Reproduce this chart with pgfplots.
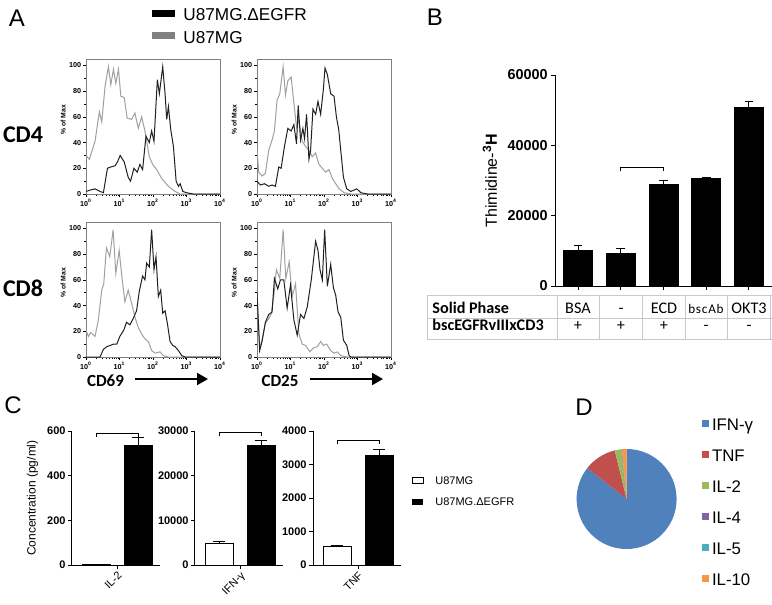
\documentclass[border=0pt]{standalone}
\usepackage{fontspec}
\setmainfont{Liberation Sans}
\newfontfamily\calibri{Carlito}
\newfontfamily\calibrisp[LetterSpace=6]{Carlito}
\usepackage{pgfplots}
\pgfplotsset{compat=1.18}
\usepackage{pgfplotstable}
\usetikzlibrary{arrows.meta}

\definecolor{flowgray}{HTML}{A0A0A0}
\definecolor{flowblack}{HTML}{202020}
\definecolor{pieblue}{HTML}{4F81BD}
\definecolor{piered}{HTML}{C0504D}
\definecolor{piegreen}{HTML}{9BBB59}
\definecolor{piepurple}{HTML}{8064A2}
\definecolor{pieaqua}{HTML}{4BACC6}
\definecolor{pieorange}{HTML}{F79646}
\definecolor{gridgray}{HTML}{C8C8C8}

% ---------- flow histograms (x = log10 of fluorescence) ----------
\pgfplotstableread{
x y
0 30
0.1 27
0.27 41
0.4 64
0.47 56
0.57 84
0.67 99
0.74 85
0.82 97
0.89 86
0.97 97
1.04 76
1.14 75
1.23 59
1.36 58
1.46 63
1.56 51
1.66 60
1.76 49
1.89 29
1.99 23
2.11 19
2.26 12
2.46 6
2.66 2
2.8 0
4 0
}\TLg
\pgfplotstableread{
x y
0 2
0.12 3
0.27 4
0.42 2
0.52 1
0.64 20
0.74 21
0.87 22
0.94 25
1.02 30
1.14 25
1.26 13
1.33 10
1.43 20
1.53 17
1.61 23
1.69 19
1.79 45
1.89 40
1.96 49
2.03 41
2.13 89
2.19 78
2.29 99
2.36 78
2.41 58
2.46 68
2.53 50
2.61 37
2.69 10
2.76 6
2.81 8
2.89 2
3.0 1
3.2 0
4 0
}\TLk
\pgfplotstableread{
x y
0 35
0.05 17
0.15 14
0.25 16
0.35 34
0.45 42
0.52 49
0.6 73
0.68 78
0.78 99
0.85 77
0.92 88
1.02 91
1.1 71
1.18 52
1.25 57
1.35 41
1.45 37
1.55 34
1.65 29
1.75 32
1.85 23
1.95 20
2.05 17
2.15 19
2.25 12
2.35 8
2.45 4
2.6 1
2.8 0
4 0
}\TRg
\pgfplotstableread{
x y
0 10
0.1 7
0.22 8
0.35 6
0.45 7
0.55 6
0.65 21
0.72 20
0.82 37
0.92 51
1.02 49
1.1 54
1.18 39
1.23 69
1.3 42
1.37 51
1.42 43
1.48 62
1.55 27
1.6 34
1.67 66
1.75 62
1.82 72
1.9 62
1.98 81
2.03 98
2.1 93
2.2 78
2.3 76
2.37 60
2.44 50
2.5 34
2.58 13
2.68 4
2.8 2
2.98 4
3.1 1
3.3 0
4 0
}\TRk
\pgfplotstableread{
x y
0 21
0.07 16
0.14 19
0.27 16
0.37 29
0.47 52
0.53 57
0.61 85
0.71 78
0.81 99
0.89 65
0.99 83
1.06 65
1.16 43
1.26 52
1.36 42
1.46 31
1.56 23
1.66 18
1.76 14
1.86 12
1.96 5
2.06 3
2.21 4
2.31 1
2.46 0
4 0
}\BLg
\pgfplotstableread{
x y
0 0
0.42 0
0.52 6
0.62 8
0.72 9
0.82 10
0.92 10
1.01 16
1.13 21
1.21 27
1.31 25
1.41 30
1.51 36
1.59 51
1.69 63
1.76 60
1.81 73
1.89 70
1.96 99
2.03 68
2.09 78
2.16 47
2.23 52
2.29 34
2.36 36
2.43 26
2.51 12
2.59 9
2.66 8
2.76 5
2.86 1
2.96 0
4 0
}\BLk
\pgfplotstableread{
x y
0 50
0.08 7
0.15 13
0.25 26
0.35 30
0.42 33
0.5 47
0.58 68
0.68 61
0.78 99
0.86 61
0.96 74
1.05 47
1.15 57
1.25 18
1.35 10
1.45 9
1.58 4
1.68 7
1.8 8
1.9 12
1.98 9
2.08 10
2.2 5
2.3 3
2.4 4
2.5 1
2.7 0
4 0
}\BRg
\pgfplotstableread{
x y
0 50
0.08 5
0.15 12
0.25 27
0.35 33
0.45 35
0.52 61
0.62 53
0.7 60
0.8 60
0.9 38
1.0 56
1.1 29
1.2 17
1.3 33
1.4 30
1.5 39
1.62 60
1.75 90
1.82 83
1.88 68
1.95 60
2.02 99
2.1 55
2.2 72
2.28 54
2.35 48
2.42 35
2.5 31
2.58 13
2.68 9
2.75 1
2.8 0
4 0
}\BRk

\pgfplotsset{
  flow/.style={
    scale only axis, width=67pt, height=67.5pt,
    xmin=0, xmax=4, ymin=0, ymax=105,
    xtick={0,1,2,3,4},
    xticklabels={10\textsuperscript{0},10\textsuperscript{1},10\textsuperscript{2},10\textsuperscript{3},10\textsuperscript{4}},
    minor xtick={0.301,0.477,0.602,0.699,0.778,0.845,0.903,0.954,1.301,1.477,1.602,1.699,1.778,1.845,1.903,1.954,2.301,2.477,2.602,2.699,2.778,2.845,2.903,2.954,3.301,3.477,3.602,3.699,3.778,3.845,3.903,3.954},
    ytick={0,20,40,60,80,100},
    minor ytick={10,30,50,70,90},
    xtick pos=bottom, ytick pos=left,
    tick align=outside,
    major tick length=1.6pt, minor tick length=0.9pt,
    axis line style={gray, line width=0.4pt},
    tick style={black, line width=0.3pt},
    minor tick style={black, line width=0.3pt},
    tick label style={font=\fontsize{3.6}{4}\selectfont\bfseries, inner sep=0.6pt},
    /pgf/number format/assume math mode=true,
    ylabel={\% of Max},
    ylabel style={font=\fontsize{3.4}{4}\selectfont\bfseries, at={(axis description cs:-0.17,0.55)}, anchor=center},
    every axis plot/.append style={line width=0.5pt, mark=none},
  },
  prism/.style={
    scale only axis,
    axis x line*=bottom, axis y line*=left,
    axis line style={-, line width=0.5pt, black},
    tick align=outside, major tick length=2pt,
    tick style={black, line width=0.5pt},
    scaled y ticks=false,
    /pgf/number format/1000 sep={},
    /pgf/number format/assume math mode=true,
  },
  cbars/.style={
    prism, anchor=south west, width=44pt, height=67pt,
    xmin=-1.07, xmax=1.02, ymin=0,
    xtick={0},
    yticklabel style={font=\fontsize{5.5}{6}\selectfont\bfseries, inner sep=1pt},
    xticklabel style={rotate=45, anchor=north east, font=\fontsize{5.5}{6}\selectfont, inner sep=0.5pt},
    ybar=7pt, bar width=14pt,
  },
  errs/.style={
    error bars/.cd, y dir=plus, y explicit,
    error bar style={black, line width=0.5pt},
    error mark options={black, line width=0.5pt, mark size=#1, rotate=90},
  },
}

\def\vIFN{85.6}
\def\vTNF{10.6}
\def\vILii{2.0}
\def\vILiv{0.1}
\def\vILv{0.2}
\def\vILx{1.5}

\begin{document}%
\begin{tikzpicture}
\pgfmathsetmacro\aA{90}
\pgfmathsetmacro\aB{\aA-3.6*\vIFN}
\pgfmathsetmacro\aC{\aB-3.6*\vTNF}
\pgfmathsetmacro\aD{\aC-3.6*\vILii}
\pgfmathsetmacro\aE{\aD-3.6*\vILiv}
\pgfmathsetmacro\aF{\aE-3.6*\vILv}
\pgfmathsetmacro\aG{\aF-3.6*\vILx}
\fill[white] (0,0) rectangle (386pt,-302.5pt);

% ---------------- Panel A ----------------
\node[font=\fontsize{12}{14}\selectfont] at (8.5pt,-9pt) {A};
\fill[black] (76pt,-5pt) rectangle (87.5pt,-8.3pt);
\node[anchor=base west, inner sep=0pt, font=\fontsize{8.6}{10}\selectfont] at (91.5pt,-10pt) {U87MG.ΔEGFR};
\fill[gray] (76pt,-16pt) rectangle (87.5pt,-19.5pt);
\node[anchor=base west, inner sep=0pt, font=\fontsize{8.6}{10}\selectfont] at (91.5pt,-21.7pt) {U87MG};

\node[font=\calibri\bfseries\fontsize{12}{14}\selectfont] at (11.5pt,-67.5pt) {CD4};
\node[font=\calibri\bfseries\fontsize{12}{14}\selectfont] at (11.5pt,-144pt) {CD8};

\begin{axis}[flow, at={(43pt,-97pt)}, anchor=south west]
\addplot[flowgray] table {\TLg};
\addplot[flowblack] table {\TLk};
\end{axis}
\begin{axis}[flow, at={(128.5pt,-97pt)}, anchor=south west]
\addplot[flowgray] table {\TRg};
\addplot[flowblack] table {\TRk};
\end{axis}
\begin{axis}[flow, at={(43pt,-178.5pt)}, anchor=south west]
\addplot[flowgray] table {\BLg};
\addplot[flowblack] table {\BLk};
\end{axis}
\begin{axis}[flow, at={(128.5pt,-178.5pt)}, anchor=south west]
\addplot[flowgray] table {\BRg};
\addplot[flowblack] table {\BRk};
\end{axis}

\node[font=\calibri\bfseries\fontsize{8.5}{10}\selectfont] at (52.75pt,-190.5pt) {CD69};
\draw[line width=1pt, -{Triangle[length=5.5pt,width=6pt]}] (67.5pt,-189.5pt) -- (104pt,-189.5pt);
\node[font=\calibri\bfseries\fontsize{8.5}{10}\selectfont] at (140pt,-190.5pt) {CD25};
\draw[line width=1pt, -{Triangle[length=5.5pt,width=6pt]}] (155pt,-189.5pt) -- (191.5pt,-189.5pt);

% ---------------- Panel B ----------------
\node[font=\fontsize{12}{14}\selectfont] at (217.5pt,-8.5pt) {B};
\begin{axis}[prism, at={(277.5pt,-143pt)}, anchor=south west,
  width=108.5pt, height=105.5pt,
  xmin=-0.54, xmax=4.54, ymin=0, ymax=60000,
  xtick={0,1,2,3,4}, xticklabels={},
  ytick={0,20000,40000,60000},
  yticklabel style={font=\fontsize{7.2}{8}\selectfont\bfseries, inner sep=1.5pt},
  ylabel={Thimidine-\textsuperscript{\textbf{3}}\textbf{H}},
  ylabel style={font=\fontsize{8}{9}\selectfont, at={(axis description cs:-0.30,0.5)}, anchor=center},
  ybar, bar width=14.5pt]
\addplot[fill=black, draw=black, errs=2.2pt]
  coordinates {(0,10200) +- (0,1250) (1,9200) +- (0,1450) (2,29000) +- (0,1000) (3,30700) +- (0,150) (4,50700) +- (0,1700)};
\draw[line width=0.4pt] (axis cs:1,32600) -- (axis cs:1,33800) -- (axis cs:2,33800) -- (axis cs:2,32600);
\end{axis}

% table under B
\draw[gridgray, line width=0.5pt] (213.5pt,-147.5pt) -- (386pt,-147.5pt);
\draw[gridgray, line width=0.5pt] (213.5pt,-159pt) -- (386pt,-159pt);
\draw[gridgray, line width=0.5pt] (213.5pt,-169.5pt) -- (386pt,-169.5pt);
\foreach \xx in {213.5,278.5,299.5,321,342.5,363.5,385.3}
  \draw[gridgray, line width=0.5pt] (\xx pt,-147.5pt) -- (\xx pt,-169.5pt);
\node[anchor=base west, inner sep=0pt, font=\calibri\bfseries\fontsize{8.1}{10}\selectfont] at (216pt,-156.6pt) {Solid Phase};
\node[anchor=base west, inner sep=0pt, font=\calibri\bfseries\fontsize{8.1}{10}\selectfont] at (216pt,-165pt) {bscEGFRvIIIxCD3};
\begin{scope}[every node/.style={anchor=base, inner sep=0pt, font=\calibri\fontsize{8.1}{10}\selectfont}]
\node at (289pt,-156.6pt) {BSA};
\node at (310.5pt,-156.6pt) {-};
\node at (332pt,-156.6pt) {ECD};
\node[font=\calibrisp\fontsize{6.6}{8}\selectfont] at (353pt,-156.6pt) {bscAb};
\node at (374.5pt,-156.6pt) {OKT3};
\node at (289pt,-165pt) {+};
\node at (310.5pt,-165pt) {+};
\node at (332pt,-165pt) {+};
\node at (353pt,-165pt) {-};
\node at (374.5pt,-165pt) {-};
\end{scope}

% ---------------- Panel C ----------------
\node[font=\fontsize{12}{14}\selectfont] at (6.5pt,-202.5pt) {C};
\begin{axis}[cbars, at={(36pt,-282.5pt)},
  ymax=600, ytick={0,200,400,600}, xticklabels={IL-2},
  ylabel={Concentration (pg/ml)},
  ylabel style={at={(axis description cs:-0.45,0.5)}, anchor=center, font=\fontsize{6}{7}\selectfont}]
\addplot[fill=white, draw=black, line width=0.5pt] coordinates {(0,2)};
\addplot[fill=black, draw=black, errs=3.2pt] coordinates {(0,535) +- (0,35)};
\draw[line width=0.4pt] (axis cs:-0.5,575) -- (axis cs:-0.5,590) -- (axis cs:0.5,590) -- (axis cs:0.5,575);
\end{axis}
\begin{axis}[cbars, at={(97.5pt,-282.5pt)},
  ymax=30000, ytick={0,10000,20000,30000}, xticklabels={IFN-γ}]
\addplot[fill=white, draw=black, line width=0.5pt, errs=3.2pt] coordinates {(0,4900) +- (0,300)};
\addplot[fill=black, draw=black, errs=3.2pt] coordinates {(0,26800) +- (0,1100)};
\draw[line width=0.4pt] (axis cs:-0.5,28800) -- (axis cs:-0.5,29600) -- (axis cs:0.5,29600) -- (axis cs:0.5,28800);
\end{axis}
\begin{axis}[cbars, at={(156.5pt,-282.5pt)},
  ymax=4000, ytick={0,1000,2000,3000,4000}, xticklabels={TNF}]
\addplot[fill=white, draw=black, line width=0.5pt, errs=3.2pt] coordinates {(0,560) +- (0,20)};
\addplot[fill=black, draw=black, errs=3.2pt] coordinates {(0,3270) +- (0,190)};
\draw[line width=0.4pt] (axis cs:-0.5,3610) -- (axis cs:-0.5,3710) -- (axis cs:0.5,3710) -- (axis cs:0.5,3610);
\end{axis}
% legend C
\draw[line width=0.5pt, fill=white] (206pt,-238.9pt) rectangle (211.5pt,-241.9pt);
\node[anchor=base west, inner sep=0pt, font=\fontsize{5.5}{6}\selectfont] at (217.5pt,-242.2pt) {U87MG};
\fill[black] (206pt,-249.7pt) rectangle (211.5pt,-252.6pt);
\node[anchor=base west, inner sep=0pt, font=\fontsize{5.5}{6}\selectfont] at (217.5pt,-252.9pt) {U87MG.ΔEGFR};

% ---------------- Panel D ----------------
\node[font=\fontsize{12}{14}\selectfont] at (292pt,-203.5pt) {D};
\begin{axis}[at={(313.3pt,-249.5pt)}, anchor=center, scale only axis,
  width=50pt, height=50pt, hide axis, xmin=-1, xmax=1, ymin=-1, ymax=1]
\fill[pieblue] (axis cs:0,0) -- (axis cs:{cos(\aA)},{sin(\aA)}) arc[start angle=\aA, end angle=\aB, radius=25pt] -- cycle;
\fill[piered] (axis cs:0,0) -- (axis cs:{cos(\aB)},{sin(\aB)}) arc[start angle=\aB, end angle=\aC, radius=25pt] -- cycle;
\fill[piegreen] (axis cs:0,0) -- (axis cs:{cos(\aC)},{sin(\aC)}) arc[start angle=\aC, end angle=\aD, radius=25pt] -- cycle;
\fill[piepurple] (axis cs:0,0) -- (axis cs:{cos(\aD)},{sin(\aD)}) arc[start angle=\aD, end angle=\aE, radius=25pt] -- cycle;
\fill[pieaqua] (axis cs:0,0) -- (axis cs:{cos(\aE)},{sin(\aE)}) arc[start angle=\aE, end angle=\aF, radius=25pt] -- cycle;
\fill[pieorange] (axis cs:0,0) -- (axis cs:{cos(\aF)},{sin(\aF)}) arc[start angle=\aF, end angle=\aG, radius=25pt] -- cycle;
\end{axis}
\foreach \c/\t [count=\i from 0] in {pieblue/IFN-γ, piered/TNF, piegreen/IL-2, piepurple/IL-4, pieaqua/IL-5, pieorange/IL-10} {
  \pgfmathsetmacro\yb{-215-15.5*\i}
  \fill[\c] (351pt,\yb pt+1.6pt) rectangle (354.4pt,\yb pt+5pt);
  \node[anchor=base west, inner sep=0pt, font=\fontsize{8.4}{10}\selectfont] at (355.8pt,\yb pt) {\t};
}
\pgfresetboundingbox
\useasboundingbox (0,0) rectangle (386pt,-302.5pt);
\end{tikzpicture}%
\end{document}
